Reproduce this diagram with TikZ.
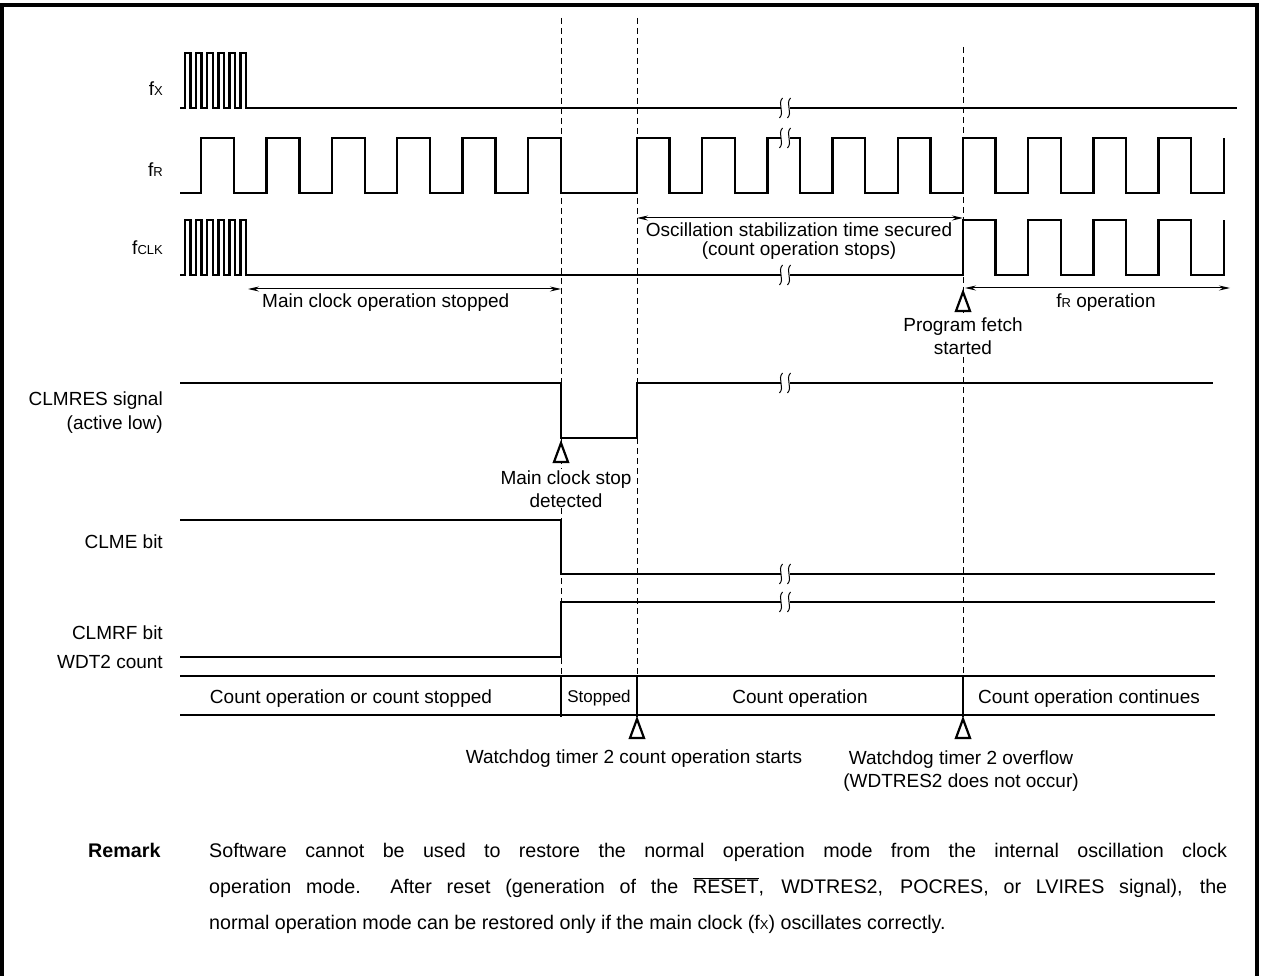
\documentclass[tikz,border=0pt]{standalone}
\usepackage{fontspec}
\setmainfont{Liberation Sans}
\usetikzlibrary{arrows.meta,positioning}

\newcommand{\lsub}[1]{{\fontsize{13}{13}\selectfont #1}}

\tikzset{
  sig/.style={line width=2.4pt, line join=miter},
  guide/.style={line width=0.9pt, dash pattern=on 6pt off 4pt},
  span/.style={line width=1pt, {Stealth[length=11pt,width=5pt]}-{Stealth[length=11pt,width=5pt]}},
  lbl/.style={anchor=base east, inner sep=0pt},
  note/.style={anchor=base, inner sep=1pt, align=center},
  over/.style={note, fill=white},
  mark/.pic={\draw[line width=2.2pt, line join=miter, fill=white] (0,0) -- (-7,19) -- (7,19) -- cycle;},
  wavebreak/.pic={
    \fill[white] (-4.5,-4) rectangle (4.5,4);
    \foreach \dx in {-4,4}
      \draw[line width=1pt] (\dx+1.5,-10) .. controls (\dx-4,-4) and (\dx+4,4) .. (\dx-1.5,10);
  }
}

\begin{document}
\begin{tikzpicture}[x=1pt, y=-1pt, font=\fontsize{19}{23}\selectfont]
\useasboundingbox (0,0) rectangle (1261,976);
\draw[line width=3.5pt] (2,976) -- (2,5) -- (1257,5) -- (1257,976);

% event times
\coordinate (stopA) at (561,18);
\coordinate (stopB) at (561,676);
\coordinate (resA) at (637,18);
\coordinate (resB) at (637,676);
\coordinate (fetchA) at (963,47);
\coordinate (fetchB) at (963,676);
\draw[guide] (stopA) -- (stopB);
\draw[guide] (resA) -- (resB);
\draw[guide] (fetchA) -- (fetchB);

% signal names
\node[lbl] (fx) at (163,96) {f\lsub{X}};
\node[lbl] (fr) at (163,177) {f\lsub{R}};
\node[lbl] (fclk) at (163,255) {f\lsub{CLK}};
\node[lbl] (clmres) at (163,405) {CLMRES signal};
\node[lbl] (actlow) at (163,429) {(active low)};
\node[lbl] (clme) at (163,548) {CLME bit};
\node[lbl] (clmrf) at (163,639) {CLMRF bit};
\node[lbl] (wdt) at (163,668) {WDT2 count};

% clocks
\draw[sig] (180,108) -- (185,108)
  \foreach \i in {1,...,6} { -- ++(0,-55) -- ++(5.55,0) -- ++(0,55) -- ++(5.55,0) } -- (1237,108);
\draw[sig] (180,193) -- (201,193)
  \foreach \i in {1,...,5} { -- ++(0,-55) -- ++(33,0) -- ++(0,55) -- ++(32.4,0) }
  -- ++(0,-55) -- (561,138) -- (561,193) -- (637,193)
  \foreach \i in {1,...,9} { -- ++(0,-55) -- ++(32.6,0) -- ++(0,55) -- ++(32.6,0) } -- ++(0,-55);
\draw[sig] (180,275) -- (185,275)
  \foreach \i in {1,...,6} { -- ++(0,-55) -- ++(5.55,0) -- ++(0,55) -- ++(5.55,0) } -- (963,275)
  \foreach \i in {1,...,4} { -- ++(0,-55) -- ++(32.6,0) -- ++(0,55) -- ++(32.6,0) } -- ++(0,-55);

% status signals
\draw[sig] (180,383) -- (561,383) -- (561,438) -- (637,438) -- (637,383) -- (1213,383);
\draw[sig] (180,520) -- (561,520) -- (561,574) -- (1215,574);
\draw[sig] (180,657) -- (561,657) -- (561,602) -- (1215,602);

\foreach \y in {108,138,275,383,574,602}
  \pic at (785,\y) {wavebreak};

% WDT2 count row
\draw[sig] (180,676) -- (1215,676);
\draw[sig] (180,715) -- (1215,715);
\foreach \x in {561,637,963}
  \draw[sig] (\x,676) -- (\x,717);
\node[note] (cnt1) at (351,703) {Count operation or count stopped};
\node[note, font=\fontsize{17}{20}\selectfont] (stp) at (599,702) {Stopped};
\node[note] (cnt2) at (800,703) {Count operation};
\node[note] (cnt3) at (1089,703) {Count operation continues};

% spans
\coordinate (offL) at (248,289);
\coordinate (offR) at (561,289);
\coordinate (oscL) at (637,218);
\coordinate (oscR) at (963,218);
\coordinate (frL) at (965,288);
\coordinate (frR) at (1230,288);
\draw[span] (offL) -- (offR);
\draw[span] (oscL) -- (oscR);
\draw[span] (frL) -- (frR);
\node[anchor=base west, inner sep=0pt] (offtxt) at (262,308) {Main clock operation stopped};
\node[note, font=\fontsize{19}{19}\selectfont] (osctxt) at (799,256)
  {Oscillation stabilization time secured\\(count operation stops)};
\node[note] (frtxt) at (1106,308) {f\lsub{R} operation};

% events
\pic at (963,292) {mark};
\node[over] (fetch) at (963,354) {Program fetch\\started};
\pic at (561,443) {mark};
\node[over] (detect) at (566,507) {Main clock stop\\detected};
\pic at (637,719) {mark};
\node[note] (wdstart) at (634,763) {Watchdog timer 2 count operation starts};
\pic at (963,719) {mark};
\node[note] (wdovf) at (961,787) {Watchdog timer 2 overflow\\(WDTRES2 does not occur)};

% remark
\node[anchor=base west, inner sep=0pt, font=\fontsize{19.7}{36}\selectfont] (rmk) at (88,857) {\textbf{Remark}};
\node[anchor=base west, inner sep=0pt] (rmkbody) at (209,857)
  {\parbox[t]{1018pt}{\fontsize{19.7}{36}\selectfont
  Software cannot be used to restore the normal operation mode from the internal oscillation clock\linebreak
  operation mode.\ \ After reset (generation of the \ensuremath{\overline{\mbox{RESET}}}, WDTRES2, POCRES, or LVIRES signal), the\linebreak
  normal operation mode can be restored only if the main clock (f\lsub{X}) oscillates correctly.}};
\end{tikzpicture}
\end{document}
